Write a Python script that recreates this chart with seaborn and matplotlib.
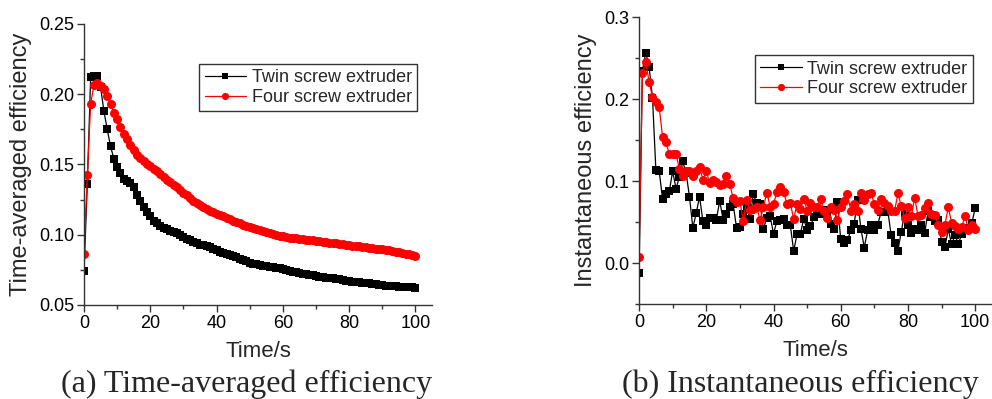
import matplotlib
matplotlib.use('Agg')
import matplotlib.pyplot as plt
import seaborn as sns
import numpy as np

# time axis, one sample per second
time_s = list(range(0, 101))

# (a) time-averaged efficiency
avg_twin = [
    0.0745, 0.136, 0.212, 0.213, 0.213, 0.205, 0.188, 0.175, 0.163, 0.154,
    0.148, 0.144, 0.140, 0.138, 0.137, 0.134, 0.128, 0.124, 0.120, 0.116,
    0.113, 0.110, 0.108, 0.106, 0.105, 0.104, 0.103, 0.102, 0.101, 0.100,
    0.0985, 0.097, 0.096, 0.095, 0.094, 0.093, 0.0925, 0.092, 0.091, 0.090,
    0.089, 0.088, 0.0872, 0.0865, 0.0855, 0.0848, 0.084, 0.083, 0.082, 0.081,
    0.0802, 0.0795, 0.079, 0.0785, 0.078, 0.0777, 0.0773, 0.077, 0.0765, 0.076,
    0.0755, 0.075, 0.0743, 0.0737, 0.0732, 0.0728, 0.0724, 0.072, 0.0715, 0.071,
    0.0705, 0.070, 0.0698, 0.0695, 0.0693, 0.069, 0.0686, 0.0682, 0.0678, 0.0674,
    0.067, 0.0667, 0.0664, 0.0661, 0.0658, 0.0655, 0.0653, 0.065, 0.0647, 0.0644,
    0.0641, 0.0638, 0.0636, 0.0634, 0.0632, 0.063, 0.0628, 0.0627, 0.0626, 0.0625,
    0.0624,
]
avg_four = [
    0.0863, 0.1425, 0.193, 0.2065, 0.208, 0.206, 0.204, 0.199, 0.193, 0.1865,
    0.182, 0.1765, 0.172, 0.168, 0.164, 0.160, 0.157, 0.1545, 0.1525, 0.1505,
    0.1487, 0.1468, 0.145, 0.143, 0.141, 0.139, 0.1372, 0.1355, 0.1338, 0.132,
    0.130, 0.128, 0.126, 0.124, 0.1225, 0.121, 0.1195, 0.118, 0.117, 0.116,
    0.115, 0.114, 0.113, 0.112, 0.111, 0.110, 0.109, 0.108, 0.107, 0.106,
    0.1053, 0.1045, 0.1038, 0.1031, 0.1024, 0.1017, 0.101, 0.1003, 0.0997, 0.0992,
    0.0988, 0.0984, 0.098, 0.0977, 0.0974, 0.0971, 0.0968, 0.0965, 0.0962, 0.0959,
    0.0956, 0.0953, 0.095, 0.0947, 0.0944, 0.0941, 0.0938, 0.0935, 0.0932, 0.0929,
    0.0926, 0.0923, 0.092, 0.0917, 0.0914, 0.0911, 0.0908, 0.0905, 0.0902, 0.0899,
    0.0896, 0.0892, 0.0888, 0.0884, 0.088, 0.0876, 0.0871, 0.0866, 0.0861, 0.0856,
    0.0851,
]

# (b) instantaneous efficiency
inst_twin = [
    -0.012, 0.235, 0.257, 0.239, 0.202, 0.114, 0.112, 0.078, 0.084, 0.088,
    0.112, 0.091, 0.105, 0.124, 0.110, 0.081, 0.043, 0.061, 0.081, 0.051,
    0.046, 0.055, 0.055, 0.053, 0.076, 0.053, 0.060, 0.069, 0.072, 0.043,
    0.044, 0.060, 0.068, 0.054, 0.084, 0.073, 0.072, 0.042, 0.055, 0.057,
    0.036, 0.051, 0.052, 0.054, 0.046, 0.046, 0.015, 0.035, 0.036, 0.054,
    0.040, 0.045, 0.056, 0.062, 0.060, 0.065, 0.060, 0.048, 0.041, 0.075,
    0.029, 0.024, 0.028, 0.040, 0.048, 0.077, 0.042, 0.019, 0.040, 0.047,
    0.040, 0.047, 0.062, 0.062, 0.064, 0.034, 0.024, 0.015, 0.038, 0.061,
    0.046, 0.037, 0.042, 0.040, 0.046, 0.037, 0.064, 0.056, 0.051, 0.052,
    0.026, 0.020, 0.041, 0.023, 0.034, 0.023, 0.036, 0.041, 0.043, 0.049,
    0.067,
]
inst_four = [
    0.008, 0.232, 0.245, 0.221, 0.203, 0.197, 0.190, 0.154, 0.148, 0.133,
    0.133, 0.133, 0.115, 0.106, 0.113, 0.113, 0.106, 0.113, 0.117, 0.102,
    0.112, 0.098, 0.101, 0.099, 0.095, 0.096, 0.106, 0.096, 0.079, 0.075,
    0.076, 0.051, 0.077, 0.065, 0.066, 0.068, 0.053, 0.068, 0.086, 0.069,
    0.072, 0.087, 0.093, 0.087, 0.072, 0.073, 0.054, 0.072, 0.066, 0.078,
    0.064, 0.073, 0.068, 0.068, 0.078, 0.064, 0.055, 0.068, 0.065, 0.053,
    0.068, 0.076, 0.084, 0.064, 0.072, 0.064, 0.085, 0.077, 0.084, 0.086,
    0.072, 0.065, 0.078, 0.073, 0.070, 0.063, 0.063, 0.085, 0.070, 0.055,
    0.068, 0.057, 0.080, 0.057, 0.059, 0.067, 0.073, 0.060, 0.059, 0.046,
    0.038, 0.047, 0.068, 0.049, 0.045, 0.042, 0.044, 0.058, 0.040, 0.046,
    0.042,
]

series_names = ['Twin screw extruder', 'Four screw extruder']
captions = ['(a) Time-averaged efficiency', '(b) Instantaneous efficiency']

sns.set_theme(style='ticks')
plt.rcParams['font.family'] = ['Liberation Sans', 'DejaVu Sans']
plt.rcParams['axes.linewidth'] = 1.0

fig = plt.figure(figsize=(9.92, 3.99), dpi=100)
ax1 = fig.add_axes([0.0847, 0.2356, 0.3508, 0.7044])
ax2 = fig.add_axes([0.6442, 0.238, 0.3558, 0.7186])


def draw(ax, y_twin, y_four):
    sns.lineplot(x=time_s, y=y_twin, ax=ax, color='black', marker='s',
                 markersize=5.5, markeredgewidth=0, linewidth=0.9,
                 label=series_names[0])
    sns.lineplot(x=time_s, y=y_four, ax=ax, color='#ff0000', marker='o',
                 markersize=6.5, markeredgewidth=0, linewidth=0.9,
                 label=series_names[1])
    ax.set_xlim(0, 105)
    ax.set_xticks([0, 20, 40, 60, 80, 100])
    ax.set_xticks(range(10, 105, 20), minor=True)
    sns.despine(ax=ax)
    for s in ['left', 'bottom']:
        ax.spines[s].set_color('#333333')
    ax.tick_params(which='major', direction='out', length=5, width=1,
                   labelsize=13, colors='#333333', labelcolor='black', pad=2)
    ax.tick_params(which='minor', direction='out', length=3, width=1,
                   colors='#333333')
    ax.set_xlabel('Time/s', fontsize=16, labelpad=7)


draw(ax1, avg_twin, avg_four)
ax1.set_ylim(0.05, 0.25)
ax1.set_yticks([0.05, 0.10, 0.15, 0.20, 0.25])
ax1.set_yticks([0.075, 0.125, 0.175, 0.225], minor=True)
ax1.set_yticklabels(['0.05', '0.10', '0.15', '0.20', '0.25'])
ax1.set_ylabel('Time-averaged efficiency', fontsize=17, labelpad=5)
ax1.legend(loc='upper right', bbox_to_anchor=(0.957, 0.858), borderaxespad=0,
           fontsize=13, frameon=True, fancybox=False, edgecolor='#333333',
           framealpha=1, handlelength=2.3, handletextpad=0.3,
           labelspacing=0.15, borderpad=0.3, markerscale=0.8)

draw(ax2, inst_twin, inst_four)
ax2.set_ylim(-0.05, 0.3)
ax2.set_yticks([0.0, 0.1, 0.2, 0.3])
ax2.set_yticks([-0.05, 0.05, 0.15, 0.25], minor=True)
ax2.set_yticklabels(['0.0', '0.1', '0.2', '0.3'])
ax2.set_ylabel('Instantaneous efficiency', fontsize=17, labelpad=5)
ax2.legend(loc='upper right', bbox_to_anchor=(0.945, 0.868), borderaxespad=0,
           fontsize=13, frameon=True, fancybox=False, edgecolor='#333333',
           framealpha=1, handlelength=2.3, handletextpad=0.3,
           labelspacing=0.15, borderpad=0.3, markerscale=0.8)

for leg in [ax1.get_legend(), ax2.get_legend()]:
    leg.get_frame().set_linewidth(1.0)

fig.text(0.249, 0.038, captions[0], ha='center', va='center', fontsize=23,
         family=['Liberation Serif', 'DejaVu Serif'])
fig.text(0.807, 0.038, captions[1], ha='center', va='center', fontsize=23,
         family=['Liberation Serif', 'DejaVu Serif'])

fig.savefig('out.png', dpi=100)
